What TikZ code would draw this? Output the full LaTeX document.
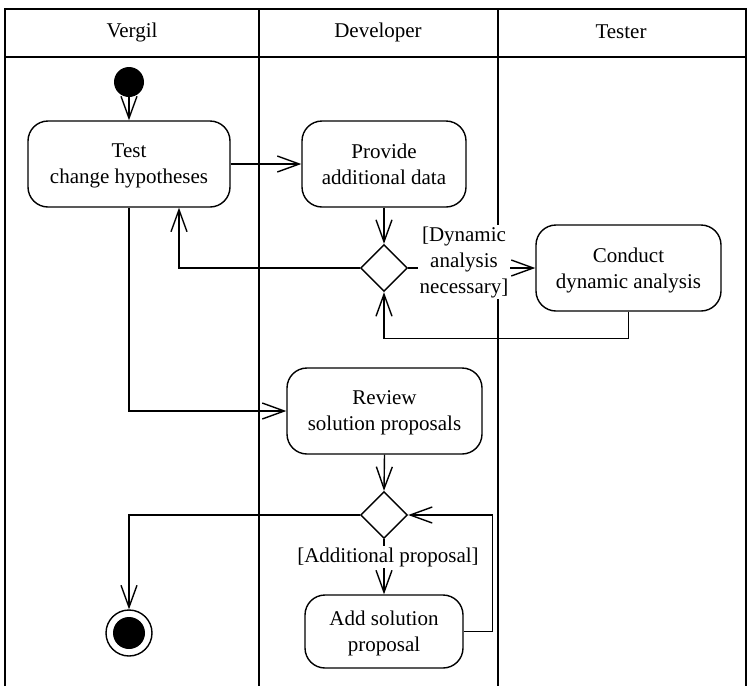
\documentclass[tikz,border=0pt]{standalone}
\usepackage{fontspec}
\setmainfont{Liberation Serif}
\usetikzlibrary{arrows.meta,shapes.geometric}

\begin{document}
\begin{tikzpicture}[x=1pt,y=-1pt,
  font=\fontsize{21}{26}\selectfont,
  lane/.style={line width=1.6pt},
  action/.style={draw, line width=1.4pt, rounded corners=20pt, align=center, inner sep=0pt, text depth=-2pt},
  decision/.style={draw, diamond, line width=1.4pt, minimum width=47pt, minimum height=47pt, inner sep=0pt},
  flow/.style={line width=1.4pt, -{Straight Barb[length=22pt,width=16pt,line width=1.4pt]}},
  guard/.style={fill=white, inner sep=1.5pt, align=center}]

\useasboundingbox (0,0) rectangle (747,686);

% swimlanes
\draw[lane] (5,686) -- (5,9) -- (746,9) -- (746,686);
\draw[lane] (5,57) -- (746,57);
\draw[lane] (259,9) -- (259,686);
\draw[lane] (498,9) -- (498,686);
\node (hv) at (132,32) {Vergil};
\node (hd) at (378,32) {Developer};
\node (ht) at (621,32) {Tester};

% activities
\node[circle, fill, minimum size=30pt, inner sep=0pt] (start) at (129,82) {};
\node[action, minimum width=202pt, minimum height=86pt] (test) at (129,164) {Test\\change hypotheses};
\node[action, minimum width=164pt, minimum height=86pt] (provide) at (384,164) {Provide\\additional data};
\node[decision] (d1) at (384,268) {};
\node[action, minimum width=185pt, minimum height=86pt] (conduct) at (628.5,268) {Conduct\\dynamic analysis};
\node[action, minimum width=195pt, minimum height=86pt] (review) at (384.5,411) {Review\\solution proposals};
\node[decision] (d2) at (384,515) {};
\node[action, minimum width=158pt, minimum height=73pt] (add) at (384,631.5) {Add solution\\proposal};
\node[circle, draw, line width=1.4pt, minimum size=46pt, inner sep=0pt] (final) at (129,633) {};
\fill (final.center) circle (16pt);

% control flows
\draw[flow] (start) -- (test.north);
\draw[flow] (test.east) -- (provide.west);
\draw[flow] (provide.south) -- (d1.north);
\draw[flow] (d1.west) -| ([xshift=50pt]test.south);
\draw[flow] (d1.east) -- (conduct.west);
\draw[flow] (conduct.south) -- ++(0,27) -| (d1.south);
\draw[flow] (test.south) |- (review.west);
\draw[flow] (review.south) -- (d2.north);
\draw[flow] (d2.west) -| (final.north);
\draw[flow] (d2.south) -- (add.north);
\draw[flow] (add.east) -- ++(29,0) |- (d2.east);

% guards
\node[guard] (g1) at (464,262) {[Dynamic\\analysis\\necessary]};
\node[guard] (g2) at (388,557) {[Additional proposal]};
\end{tikzpicture}
\end{document}
